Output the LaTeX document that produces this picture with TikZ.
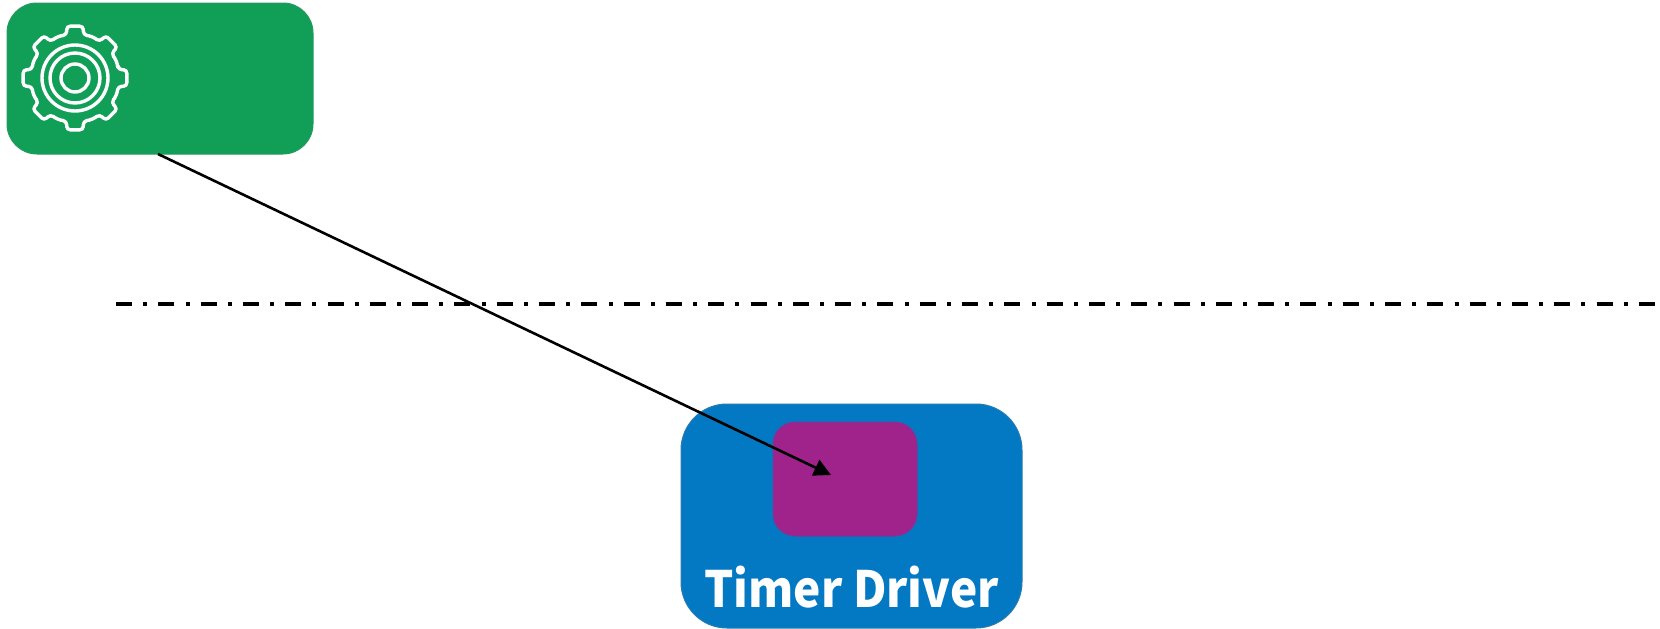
\documentclass[tikz,border=0pt]{standalone}
\usepackage{fontspec}
\setmainfont{Noto Sans CJK SC}
\usetikzlibrary{arrows.meta}
\definecolor{gearbox}{HTML}{119F57}
\definecolor{driverbox}{HTML}{0379C4}
\definecolor{timerbox}{HTML}{A0228B}

\begin{document}
\begin{tikzpicture}[x=1pt, y=-1pt, >={Triangle[length=17pt,width=17pt]}]
\tikzset{box/.style n args={3}{rounded corners=#3,fill=#1,draw=#2,line width=1pt},
  gearline/.style={draw=white,line width=3.4pt,line join=round}}

\useasboundingbox (0,0) rectangle (1660,629);

% boxes
\path[box={gearbox}{gearbox!80!gray}{30pt}] (7,3) rectangle (313,154);
\path[box={driverbox}{driverbox!70!gray}{46pt}] (681,404) rectangle (1022,628);
\path[box={timerbox}{timerbox!70!driverbox}{22pt}] (773,422) rectangle (917,536);

\coordinate (gearbottom) at (158,154);
\coordinate (timerin) at (831,475);

\node[text=white,font=\fontsize{50}{50}\selectfont\bfseries,inner sep=0,xscale=0.92,transform shape] (drivername) at (851.5,587.5) {Timer Driver};

% gear icon
\begin{scope}[shift={(75,78)}]
\draw[gearline,rounded corners=3.5pt] (-11:44)
  \foreach \a in {0,45,...,315} {
    -- ({\a-11}:44) -- ({\a-9}:52.5) -- ({\a+9}:52.5) -- ({\a+11}:44) -- ({\a+22.5}:45)
  } -- cycle;
\foreach \r in {33,25,14} {
  \draw[gearline] (0,0) circle (\r);
}
\end{scope}

% separator
\draw[line width=3.5pt,dash pattern=on 16pt off 11.2pt on 4pt off 11.1pt] (116,304) -- (1660,304);

\draw[->,line width=2.6pt] (gearbottom) -- (timerin);

\end{tikzpicture}
\end{document}
